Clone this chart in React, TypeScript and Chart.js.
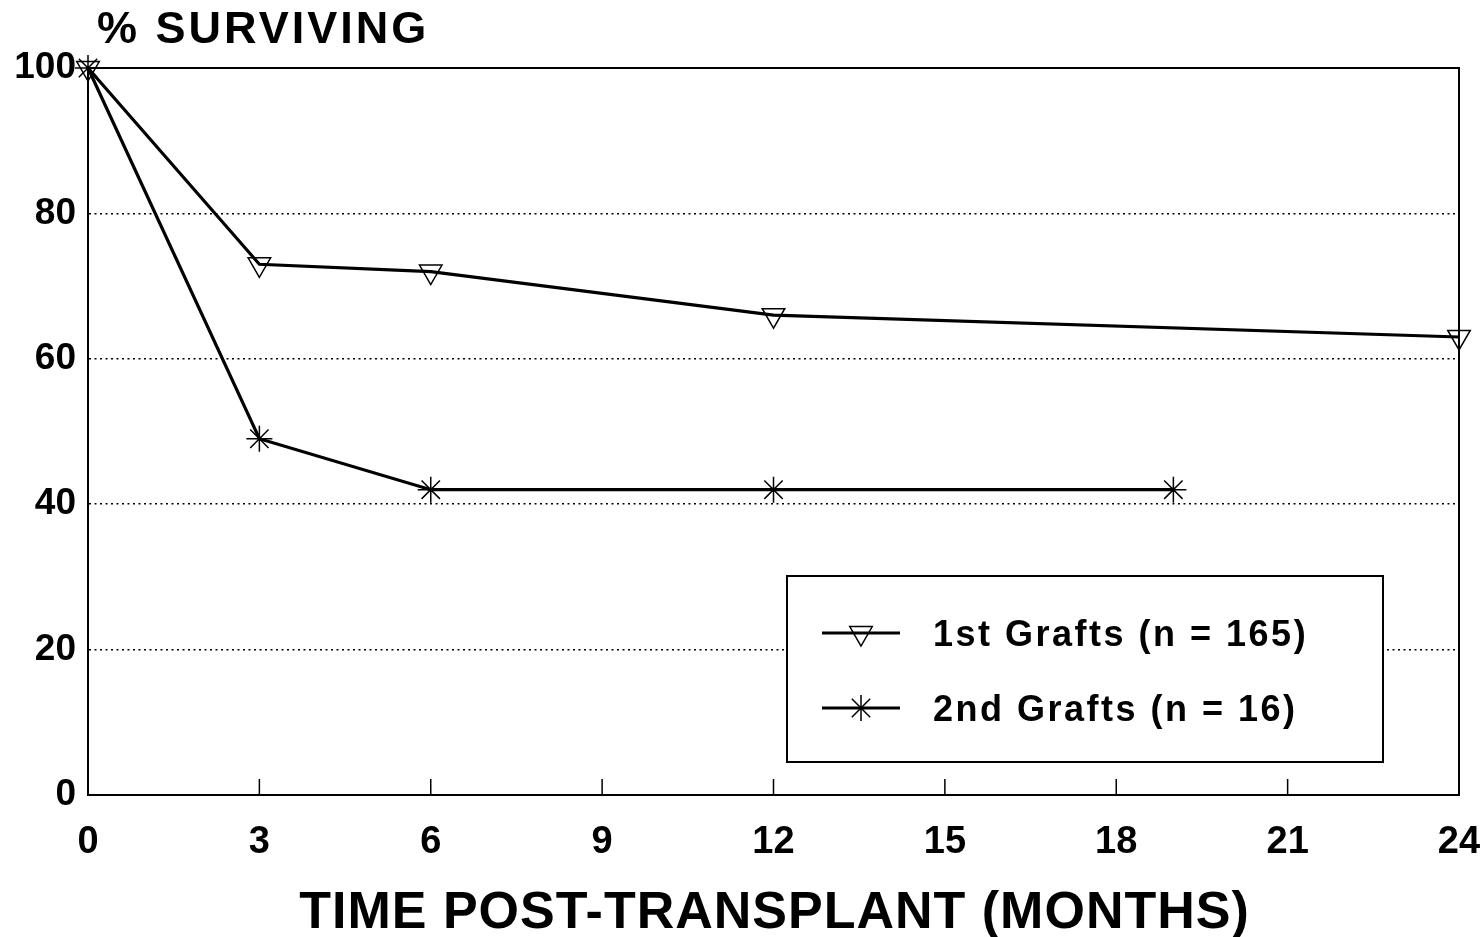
import React, { useEffect, useRef } from 'react';
import { Chart, registerables } from 'chart.js';
import { drawPoint } from 'chart.js/helpers';

Chart.register(...registerables);

// ---- data ----
const firstGraftsMonths = [0, 3, 6, 12, 24];
const firstGraftsSurvival = [100, 73, 72, 66, 63];
const secondGraftsMonths = [0, 3, 6, 12, 19];
const secondGraftsSurvival = [100, 49, 42, 42, 42];
const xTicks = [0, 3, 6, 9, 12, 15, 18, 21, 24];
const yTicks = [0, 20, 40, 60, 80, 100];
const seriesLabels = ['1st Grafts (n = 165)', '2nd Grafts (n = 16)'];
const yAxisTitle = '% SURVIVING';
const xAxisTitle = 'TIME POST-TRANSPLANT (MONTHS)';

const FONT = '"Liberation Sans", Arial, Helvetica, sans-serif';

const decorPlugin = {
  id: 'decor',
  afterDraw(chart: any) {
    const { ctx, chartArea: a, scales } = chart;
    ctx.save();
    ctx.strokeStyle = '#000';
    ctx.fillStyle = '#000';
    // top and right frame
    ctx.lineWidth = 2;
    ctx.beginPath();
    ctx.moveTo(a.left, a.top);
    ctx.lineTo(a.right, a.top);
    ctx.lineTo(a.right, a.bottom);
    ctx.stroke();
    // inward tick marks on x axis
    ctx.lineWidth = 1.5;
    ctx.beginPath();
    for (const v of xTicks) {
      if (v === xTicks[0] || v === xTicks[xTicks.length - 1]) continue;
      const px = scales.x.getPixelForValue(v);
      ctx.moveTo(px, a.bottom);
      ctx.lineTo(px, a.bottom - 16);
    }
    ctx.stroke();

    // y axis title (top-left)
    ctx.font = `bold 45px ${FONT}`;
    (ctx as any).letterSpacing = '3px';
    ctx.textAlign = 'left';
    ctx.textBaseline = 'alphabetic';
    ctx.fillText(yAxisTitle, a.left + 9, 43);

    // x axis title
    ctx.font = `bold 52px ${FONT}`;
    (ctx as any).letterSpacing = '1px';
    ctx.textAlign = 'center';
    ctx.fillText(xAxisTitle, (a.left + a.right) / 2 + 1, 928);

    // legend box
    const boxL = 787, boxT = 576, boxW = 596, boxH = 186;
    ctx.lineWidth = 2;
    ctx.fillStyle = '#fff';
    ctx.fillRect(boxL, boxT, boxW, boxH);
    ctx.strokeRect(boxL, boxT, boxW, boxH);
    const rows = [633, 708];
    chart.data.datasets.forEach((ds: any, i: number) => {
      const y = rows[i];
      ctx.strokeStyle = '#000';
      ctx.lineWidth = 3;
      ctx.beginPath();
      ctx.moveTo(822, y);
      ctx.lineTo(900, y);
      ctx.stroke();
      ctx.lineWidth = 1.5;
      ctx.fillStyle = 'rgba(0,0,0,0)';
      drawPoint(ctx, {
        pointStyle: ds.pointStyle,
        rotation: ds.pointRotation || 0,
        radius: ds.pointRadius,
        borderWidth: 1.5,
      }, 861, y);
      ctx.fillStyle = '#000';
      ctx.font = `bold 36px ${FONT}`;
      (ctx as any).letterSpacing = '2.5px';
      ctx.textAlign = 'left';
      ctx.textBaseline = 'middle';
      ctx.fillText(ds.label, 933, y + 3);
    });
    ctx.restore();
  },
};

export default function App() {
  const ref = useRef<HTMLCanvasElement>(null);
  useEffect(() => {
    if (!ref.current) return;
    const common = {
      borderColor: '#000',
      borderWidth: 3.2,
      pointRadius: 13,
      pointBorderWidth: 1.5,
      pointBorderColor: '#000',
      pointBackgroundColor: 'rgba(0,0,0,0)',
      tension: 0,
      clip: false as any,
      fill: false,
    };
    const chart = new Chart(ref.current, {
      type: 'line',
      data: {
        datasets: [
          {
            ...common,
            label: seriesLabels[0],
            data: firstGraftsMonths.map((m, i) => ({ x: m, y: firstGraftsSurvival[i] })),
            pointStyle: 'triangle',
            pointRotation: 180,
          },
          {
            ...common,
            label: seriesLabels[1],
            data: secondGraftsMonths.map((m, i) => ({ x: m, y: secondGraftsSurvival[i] })),
            pointStyle: 'star',
            pointRotation: 0,
          },
        ] as any,
      },
      options: {
        responsive: false,
        animation: false,
        devicePixelRatio: 1,
        layout: { padding: { top: 68, right: 25, left: 0, bottom: 0 } },
        plugins: { legend: { display: false }, tooltip: { enabled: false }, title: { display: false } },
        scales: {
          x: {
            type: 'linear',
            min: xTicks[0],
            max: xTicks[xTicks.length - 1],
            afterBuildTicks: (axis: any) => {
              axis.ticks = xTicks.map((v) => ({ value: v }));
            },
            afterFit: (scale: any) => {
              scale.height = 142;
              scale.paddingLeft = 0;
              scale.paddingRight = 0;
            },
            grid: { display: false, drawTicks: false },
            border: { display: true, color: '#000', width: 2 },
            ticks: {
              color: '#000',
              padding: 25,
              maxRotation: 0,
              autoSkip: false,
              font: { family: FONT, size: 38, weight: 'bold' },
            },
          },
          y: {
            type: 'linear',
            min: yTicks[0],
            max: yTicks[yTicks.length - 1],
            afterBuildTicks: (axis: any) => {
              axis.ticks = yTicks.map((v) => ({ value: v }));
            },
            afterFit: (scale: any) => {
              scale.width = 88;
              scale.paddingTop = 0;
              scale.paddingBottom = 0;
            },
            grid: {
              drawTicks: false,
              lineWidth: 1.5,
              color: (c: any) =>
                c.tick && (c.tick.value === yTicks[0] || c.tick.value === yTicks[yTicks.length - 1])
                  ? 'rgba(0,0,0,0)'
                  : '#000',
            },
            border: { display: true, color: '#000', width: 2, dash: [2, 3.5] },
            ticks: {
              color: '#000',
              padding: 12,
              font: { family: FONT, size: 37, weight: 'bold' },
            },
          },
        },
      } as any,
      plugins: [decorPlugin],
    });
    return () => chart.destroy();
  }, []);
  return (
    <div style={{ position: 'fixed', left: 0, top: 0, width: 1484, height: 937, background: '#fff' }}>
      <canvas ref={ref} width={1484} height={937} style={{ display: 'block' }} />
    </div>
  );
}
